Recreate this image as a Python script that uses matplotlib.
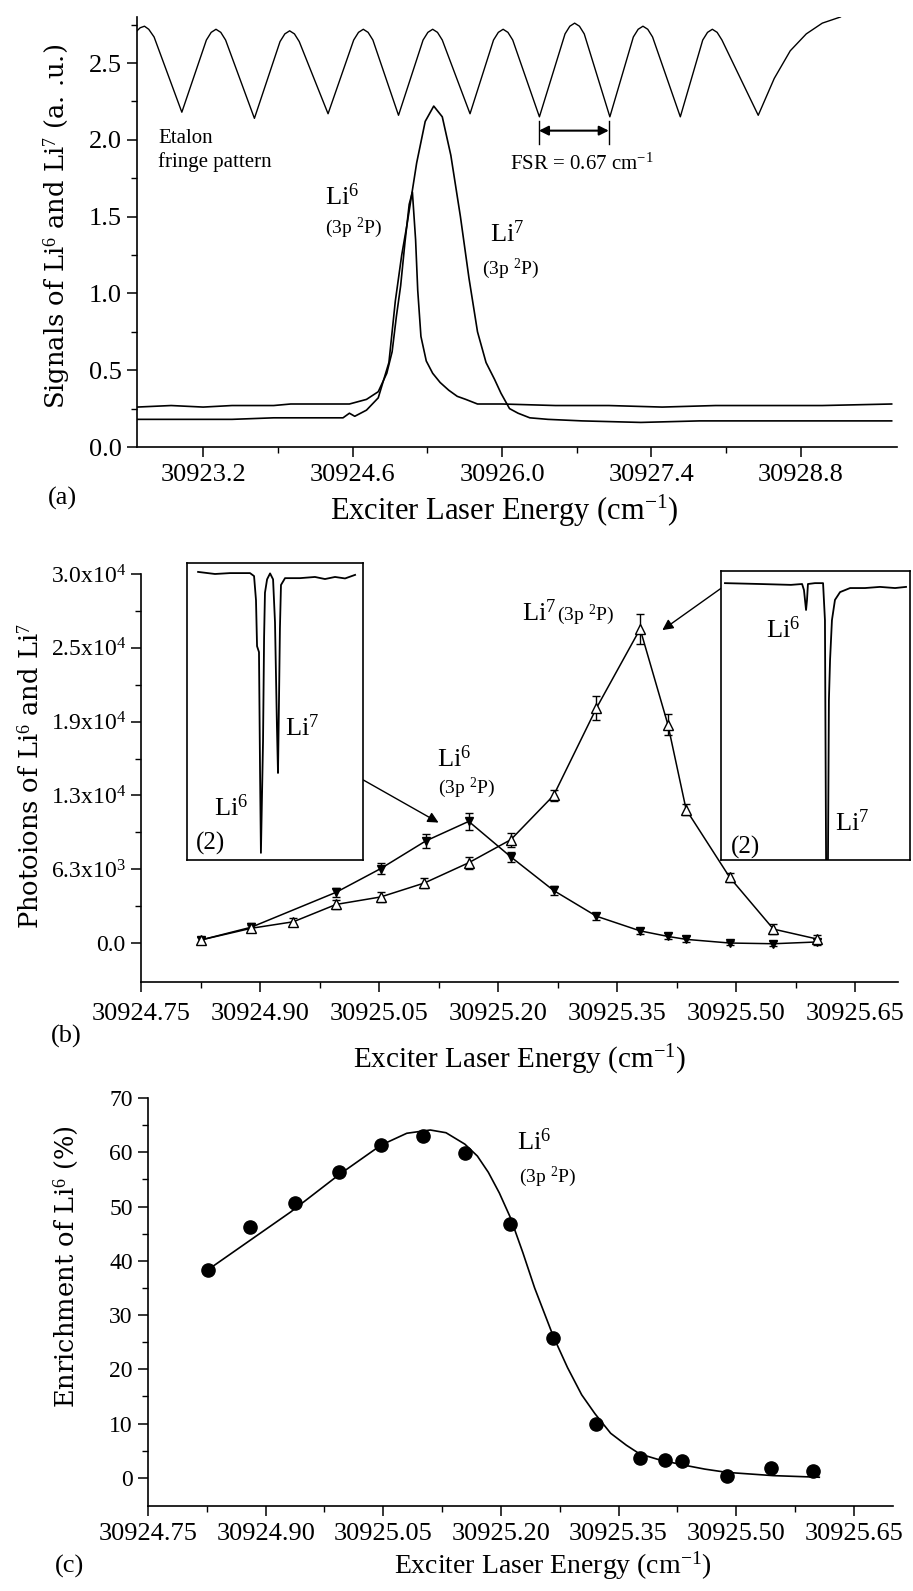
import matplotlib
matplotlib.use("Agg")
import matplotlib.pyplot as plt

plt.rcParams['font.family'] = ['Liberation Serif', 'DejaVu Serif']
plt.rcParams['mathtext.fontset'] = 'custom'
plt.rcParams['mathtext.rm'] = 'Liberation Serif'
plt.rcParams['mathtext.it'] = 'Liberation Serif:italic'
plt.rcParams['mathtext.bf'] = 'Liberation Serif:bold'

# ---------------- panel (a): etalon fringes and the two isotope signals
etalon_x = [30922.58, 30922.61, 30922.65, 30922.69, 30922.74, 30923.00,
            30923.23, 30923.275, 30923.32, 30923.365, 30923.41, 30923.68,
            30923.92, 30923.965, 30924.01, 30924.055, 30924.10, 30924.37,
            30924.61, 30924.655, 30924.70, 30924.745, 30924.79, 30925.03,
            30925.26, 30925.305, 30925.35, 30925.395, 30925.44, 30925.70,
            30925.92, 30925.965, 30926.01, 30926.055, 30926.10, 30926.35,
            30926.59, 30926.635, 30926.68, 30926.725, 30926.77, 30927.01,
            30927.23, 30927.275, 30927.32, 30927.365, 30927.41, 30927.67,
            30927.88, 30927.925, 30927.97, 30928.015, 30928.06, 30928.40,
            30928.55, 30928.70, 30928.85, 30929.00, 30929.17]
etalon_y = [2.71, 2.73, 2.74, 2.72, 2.67, 2.18,
            2.65, 2.70, 2.72, 2.70, 2.65, 2.14,
            2.64, 2.69, 2.71, 2.69, 2.64, 2.17,
            2.65, 2.70, 2.72, 2.70, 2.65, 2.16,
            2.65, 2.70, 2.72, 2.70, 2.65, 2.17,
            2.65, 2.70, 2.72, 2.70, 2.65, 2.15,
            2.69, 2.74, 2.76, 2.74, 2.69, 2.15,
            2.67, 2.72, 2.74, 2.72, 2.67, 2.15,
            2.65, 2.70, 2.72, 2.70, 2.65, 2.16,
            2.40, 2.58, 2.69, 2.76, 2.80]

li6_sig_x = [30922.58, 30922.90, 30923.20, 30923.47, 30923.86, 30924.02, 30924.35, 30924.57,
             30924.73, 30924.84, 30924.92, 30924.97, 30925.01, 30925.05, 30925.09, 30925.13,
             30925.16, 30925.19, 30925.21, 30925.24, 30925.29, 30925.35, 30925.42, 30925.50,
             30925.58, 30925.66, 30925.77, 30926.00, 30926.50, 30927.00, 30927.50, 30928.00,
             30928.50, 30929.00, 30929.65]
li6_sig_y = [0.26, 0.27, 0.26, 0.27, 0.27, 0.28, 0.28, 0.28,
             0.31, 0.36, 0.48, 0.62, 0.85, 1.05, 1.33, 1.58,
             1.66, 1.35, 1.02, 0.72, 0.56, 0.48, 0.42, 0.37,
             0.33, 0.31, 0.28, 0.28, 0.27, 0.27, 0.26, 0.27,
             0.27, 0.27, 0.28]

li7_sig_x = [30922.58, 30923.00, 30923.47, 30923.86, 30924.35, 30924.51, 30924.57, 30924.62,
             30924.73, 30924.84, 30924.94, 30925.00, 30925.06, 30925.11, 30925.20, 30925.28,
             30925.36, 30925.44, 30925.52, 30925.61, 30925.69, 30925.77, 30925.85, 30925.93,
             30925.99, 30926.07, 30926.15, 30926.26, 30926.43, 30926.75, 30927.30, 30927.85,
             30928.40, 30929.00, 30929.65]
li7_sig_y = [0.18, 0.18, 0.18, 0.19, 0.19, 0.19, 0.22, 0.20,
             0.24, 0.32, 0.55, 0.95, 1.25, 1.45, 1.85, 2.12,
             2.22, 2.15, 1.90, 1.50, 1.10, 0.75, 0.55, 0.44,
             0.35, 0.25, 0.22, 0.19, 0.18, 0.17, 0.16, 0.17,
             0.17, 0.17, 0.17]

a_xticks = [30923.2, 30924.6, 30926.0, 30927.4, 30928.8]
a_xlabels = ['30923.2', '30924.6', '30926.0', '30927.4', '30928.8']
a_xminor = [30923.9, 30925.3, 30926.7, 30928.1]
a_yticks = [0.0, 0.5, 1.0, 1.5, 2.0, 2.5]
a_ylabels = ['0.0', '0.5', '1.0', '1.5', '2.0', '2.5']
a_yminor = [0.25, 0.75, 1.25, 1.75, 2.25, 2.75]
fsr_start, fsr_end = 30926.345, 30927.00

# ---------------- panel (b): photoion yields with error bars
li6_x = [30924.825, 30924.889, 30924.996, 30925.052, 30925.109, 30925.163, 30925.216,
         30925.270, 30925.324, 30925.379, 30925.414, 30925.437, 30925.492, 30925.547, 30925.602]
li6_y = [250, 1340, 4300, 6300, 8650, 10300, 7300, 4450, 2270, 1030, 560, 310, 0, -60, 90]
li6_err = [300, 350, 400, 450, 600, 700, 450, 350, 300, 250, 250, 250, 200, 200, 250]

li7_x = [30924.825, 30924.889, 30924.942, 30924.996, 30925.052, 30925.107, 30925.163, 30925.216,
         30925.270, 30925.324, 30925.379, 30925.414, 30925.437, 30925.492, 30925.547, 30925.602]
li7_y = [250, 1250, 1800, 3270, 3900, 5080, 6800, 8750,
         12500, 19900, 26600, 18500, 11300, 5550, 1180, 340]
li7_err = [300, 300, 300, 400, 400, 400, 500, 600,
           500, 1000, 1300, 900, 500, 400, 450, 300]

bc_xticks = [30924.75, 30924.90, 30925.05, 30925.20, 30925.35, 30925.50, 30925.65]
bc_xlabels = ['30924.75', '30924.90', '30925.05', '30925.20', '30925.35', '30925.50', '30925.65']
bc_xminor = [30924.825, 30924.975, 30925.125, 30925.275, 30925.425, 30925.575]
b_yticks = [0, 6250, 12500, 18750, 25000, 31250]
b_ylabels = ['0.0', r'6.3x10$^{3}$', r'1.3x10$^{4}$', r'1.9x10$^{4}$', r'2.5x10$^{4}$', r'3.0x10$^{4}$']
b_yminor = [3125, 9375, 15625, 21875, 28125]

# insets (2): absorption traces, arbitrary units 0..100
in1_x = [6.3, 15.9, 24.4, 35.8, 38.1, 39.2, 39.8, 40.9, 41.5, 42.0, 43.2, 43.8, 44.3,
         45.5, 47.2, 48.9, 50.0, 51.1, 51.7, 52.3, 52.8, 53.4, 55.7, 64.2, 72.7, 78.4,
         84.1, 89.8, 95.5]
in1_y = [97.0, 96.3, 96.6, 96.6, 95.6, 87.5, 72.0, 70.0, 30.0, 2.4, 40.0, 75.0, 90.0,
         94.5, 96.5, 94.5, 80.0, 45.0, 29.3, 55.0, 78.0, 92.6, 94.9, 94.9, 95.3, 94.6,
         95.3, 94.8, 96.0]
in2_x = [2.1, 20.6, 37.0, 42.9, 43.9, 45.0, 45.5, 46.0, 49.7, 54.0, 55.0, 55.6, 56.6,
         57.1, 57.7, 58.7, 60.3, 63.0, 68.3, 76.2, 84.1, 92.1, 97.9]
in2_y = [95.8, 95.5, 95.2, 95.5, 93.4, 86.5, 89.9, 95.5, 95.8, 95.8, 83.0, 0.0, 0.0,
         55.4, 69.2, 83.0, 90.0, 92.7, 94.1, 94.1, 94.5, 94.1, 94.5]

# ---------------- panel (c): enrichment
enr_x = [30924.826, 30924.880, 30924.937, 30924.993, 30925.047, 30925.101, 30925.154, 30925.212,
         30925.267, 30925.321, 30925.377, 30925.409, 30925.431, 30925.488, 30925.544, 30925.598]
enr_y = [38.3, 46.3, 50.6, 56.4, 61.4, 63.0, 59.8, 46.7, 25.8, 10.0, 3.6, 3.2, 3.1, 0.4, 1.8, 1.3]
fit_x = [30924.826, 30924.932, 30924.993, 30925.047, 30925.080, 30925.110, 30925.130, 30925.154,
         30925.170, 30925.184, 30925.198, 30925.212, 30925.228, 30925.243, 30925.267, 30925.285,
         30925.303, 30925.320, 30925.340, 30925.360, 30925.377, 30925.400, 30925.431, 30925.460,
         30925.488, 30925.547, 30925.606]
fit_y = [38.3, 49.0, 55.8, 61.3, 63.5, 64.1, 63.6, 61.5, 59.3, 56.3, 52.5, 48.0, 41.5, 35.0,
         26.0, 20.3, 15.3, 11.8, 8.2, 6.0, 4.4, 3.4, 2.4, 1.6, 1.0, 0.4, 0.1]
c_yticks = [0, 10, 20, 30, 40, 50, 60, 70]
c_yminor = [5, 15, 25, 35, 45, 55, 65]

W, H = 913, 1591
TICK = 19
LABEL_FONT = 'DejaVu Serif'


def box(l, t, r, b):
    return [l / W, 1 - b / H, (r - l) / W, (b - t) / H]


def ftext(x, y, s, **kw):
    fig.text(x / W, 1 - y / H, s, **kw)


def style(ax, ysize=TICK, xpad=5):
    for s in ['top', 'right']:
        ax.spines[s].set_visible(False)
    for s in ['left', 'bottom']:
        ax.spines[s].set_linewidth(1.2)
    ax.tick_params(which='major', direction='out', length=7, width=1.1)
    ax.tick_params(which='minor', direction='out', length=4, width=1.0)
    ax.tick_params(axis='x', labelsize=TICK, pad=xpad)
    ax.tick_params(axis='y', labelsize=ysize, pad=4)


fig = plt.figure(figsize=(W / 100, H / 100), dpi=100)

# ---- (a)
axA = fig.add_axes(box(137, 17, 897, 447))
style(axA)
axA.plot(etalon_x, etalon_y, color='k', lw=1.0)
axA.plot(li6_sig_x, li6_sig_y, color='k', lw=1.2)
axA.plot(li7_sig_x, li7_sig_y, color='k', lw=1.2)
axA.set_xlim(30922.58, 30929.7)
axA.set_ylim(0, 2.8)
axA.set_xticks(a_xticks)
axA.set_xticklabels(a_xlabels)
axA.set_xticks(a_xminor, minor=True)
axA.set_yticks(a_yticks)
axA.set_yticklabels(a_ylabels)
axA.set_yticks(a_yminor, minor=True)
axA.text(30922.78, 2.07, 'Etalon\nfringe pattern', fontsize=15, va='top', ha='left', linespacing=1.25)
axA.annotate('', xy=(fsr_end, 2.06), xytext=(fsr_start, 2.06),
             arrowprops=dict(arrowstyle='<|-|>', color='k', lw=1.5, mutation_scale=14,
                             shrinkA=0, shrinkB=0))
for xe in (fsr_start, fsr_end):
    axA.plot([xe, xe], [1.97, 2.12], color='k', lw=1.0)
axA.text(30926.75, 1.84, r'FSR = 0.67 cm$^{-1}$', fontsize=15, ha='center', va='center')
axA.text(30924.50, 1.63, r'Li$^{6}$', fontsize=19, ha='center', va='center')
axA.text(30924.61, 1.43, r'(3p $^{2}$P)', fontsize=14, ha='center', va='center')
axA.text(30926.05, 1.39, r'Li$^{7}$', fontsize=19, ha='center', va='center')
axA.text(30926.08, 1.16, r'(3p $^{2}$P)', fontsize=14, ha='center', va='center')

ftext(57, 226, r'Signals of Li$^{6}$ and Li$^{7}$ (a. .u.)', fontsize=18.5, rotation=90,
      ha='center', va='center', family=LABEL_FONT)
ftext(504, 511, r'Exciter Laser Energy (cm$^{-1}$)', fontsize=22, ha='center', va='center')
ftext(62, 498, '(a)', fontsize=19, ha='center', va='center')

# ---- (b)
axB = fig.add_axes(box(141, 574, 898, 982))
style(axB, ysize=17, xpad=8)
axB.plot(li6_x, li6_y, color='k', lw=1.1)
axB.plot(li7_x, li7_y, color='k', lw=1.1)
axB.errorbar(li6_x, li6_y, yerr=li6_err, fmt='v', color='k', ms=6, capsize=3, elinewidth=1.0)
axB.errorbar(li7_x, li7_y, yerr=li7_err, fmt='^', color='k', mfc='white', ms=7, capsize=3,
             elinewidth=1.0)
axB.set_xlim(30924.75, 30925.704)
axB.set_ylim(-3300, 31250)
axB.set_xticks(bc_xticks)
axB.set_xticklabels(bc_xlabels)
axB.set_xticks(bc_xminor, minor=True)
axB.set_yticks(b_yticks)
axB.set_yticklabels(b_ylabels)
axB.set_yticks(b_yminor, minor=True)
axB.text(30925.23, 28000, r'Li$^{7}$', fontsize=19, ha='left', va='center')
axB.text(30925.274, 27800, r'(3p $^{2}$P)', fontsize=14, ha='left', va='center')
axB.text(30925.145, 15600, r'Li$^{6}$', fontsize=19, ha='center', va='center')
axB.text(30925.160, 13100, r'(3p $^{2}$P)', fontsize=14, ha='center', va='center')

ftext(31, 776, r'Photoions of Li$^{6}$ and Li$^{7}$', fontsize=18.5, rotation=90,
      ha='center', va='center', family=LABEL_FONT)
ftext(520, 1060, r'Exciter Laser Energy (cm$^{-1}$)', fontsize=21, ha='center', va='center')
ftext(66, 1036, '(b)', fontsize=19, ha='center', va='center')

ins1 = fig.add_axes(box(187, 563, 363, 860))
ins2 = fig.add_axes(box(721, 571, 910, 860))
for ins, xs, ys in ((ins1, in1_x, in1_y), (ins2, in2_x, in2_y)):
    ins.plot(xs, ys, color='k', lw=1.3)
    ins.set_xlim(0, 100)
    ins.set_ylim(0, 100)
    ins.set_xticks([])
    ins.set_yticks([])
    for s in ins.spines.values():
        s.set_linewidth(1.2)
ins1.text(65.3, 44.4, r'Li$^{7}$', fontsize=19, ha='center', va='center')
ins1.text(25.0, 17.5, r'Li$^{6}$', fontsize=19, ha='center', va='center')
ins1.text(13.6, 5.7, '(2)', fontsize=18, ha='center', va='center')
ins2.text(32.8, 79.6, r'Li$^{6}$', fontsize=19, ha='center', va='center')
ins2.text(69.3, 12.8, r'Li$^{7}$', fontsize=19, ha='center', va='center')
ins2.text(12.7, 4.5, '(2)', fontsize=18, ha='center', va='center')

axB.annotate('', xy=(30925.125, 10200), xytext=(1.0, 0.27), textcoords=ins1.transAxes,
             arrowprops=dict(arrowstyle='-|>', color='k', lw=1.0, mutation_scale=16,
                             shrinkA=0, shrinkB=0))
axB.annotate('', xy=(30925.407, 26500), xytext=(0.0, 0.94), textcoords=ins2.transAxes,
             arrowprops=dict(arrowstyle='-|>', color='k', lw=1.0, mutation_scale=16,
                             shrinkA=0, shrinkB=0))

# ---- (c)
axC = fig.add_axes(box(148, 1098, 893, 1506))
style(axC, ysize=17)
axC.plot(fit_x, fit_y, color='k', lw=1.2)
axC.plot(enr_x, enr_y, 'o', color='k', ms=9.5)
axC.set_xlim(30924.75, 30925.70)
axC.set_ylim(-5.2, 70)
axC.set_xticks(bc_xticks)
axC.set_xticklabels(bc_xlabels)
axC.set_xticks(bc_xminor, minor=True)
axC.set_yticks(c_yticks)
axC.set_yticks(c_yminor, minor=True)
axC.text(30925.242, 62.0, r'Li$^{6}$', fontsize=19, ha='center', va='center')
axC.text(30925.260, 55.4, r'(3p $^{2}$P)', fontsize=14, ha='center', va='center')

ftext(66, 1267, r'Enrichment of Li$^{6}$ (%)', fontsize=18.5, rotation=90,
      ha='center', va='center', family=LABEL_FONT)
ftext(553, 1566, r'Exciter Laser Energy (cm$^{-1}$)', fontsize=20, ha='center', va='center')
ftext(70, 1566, '(c)', fontsize=19, ha='center', va='center')

fig.savefig('out.png', dpi=100, facecolor='white')
